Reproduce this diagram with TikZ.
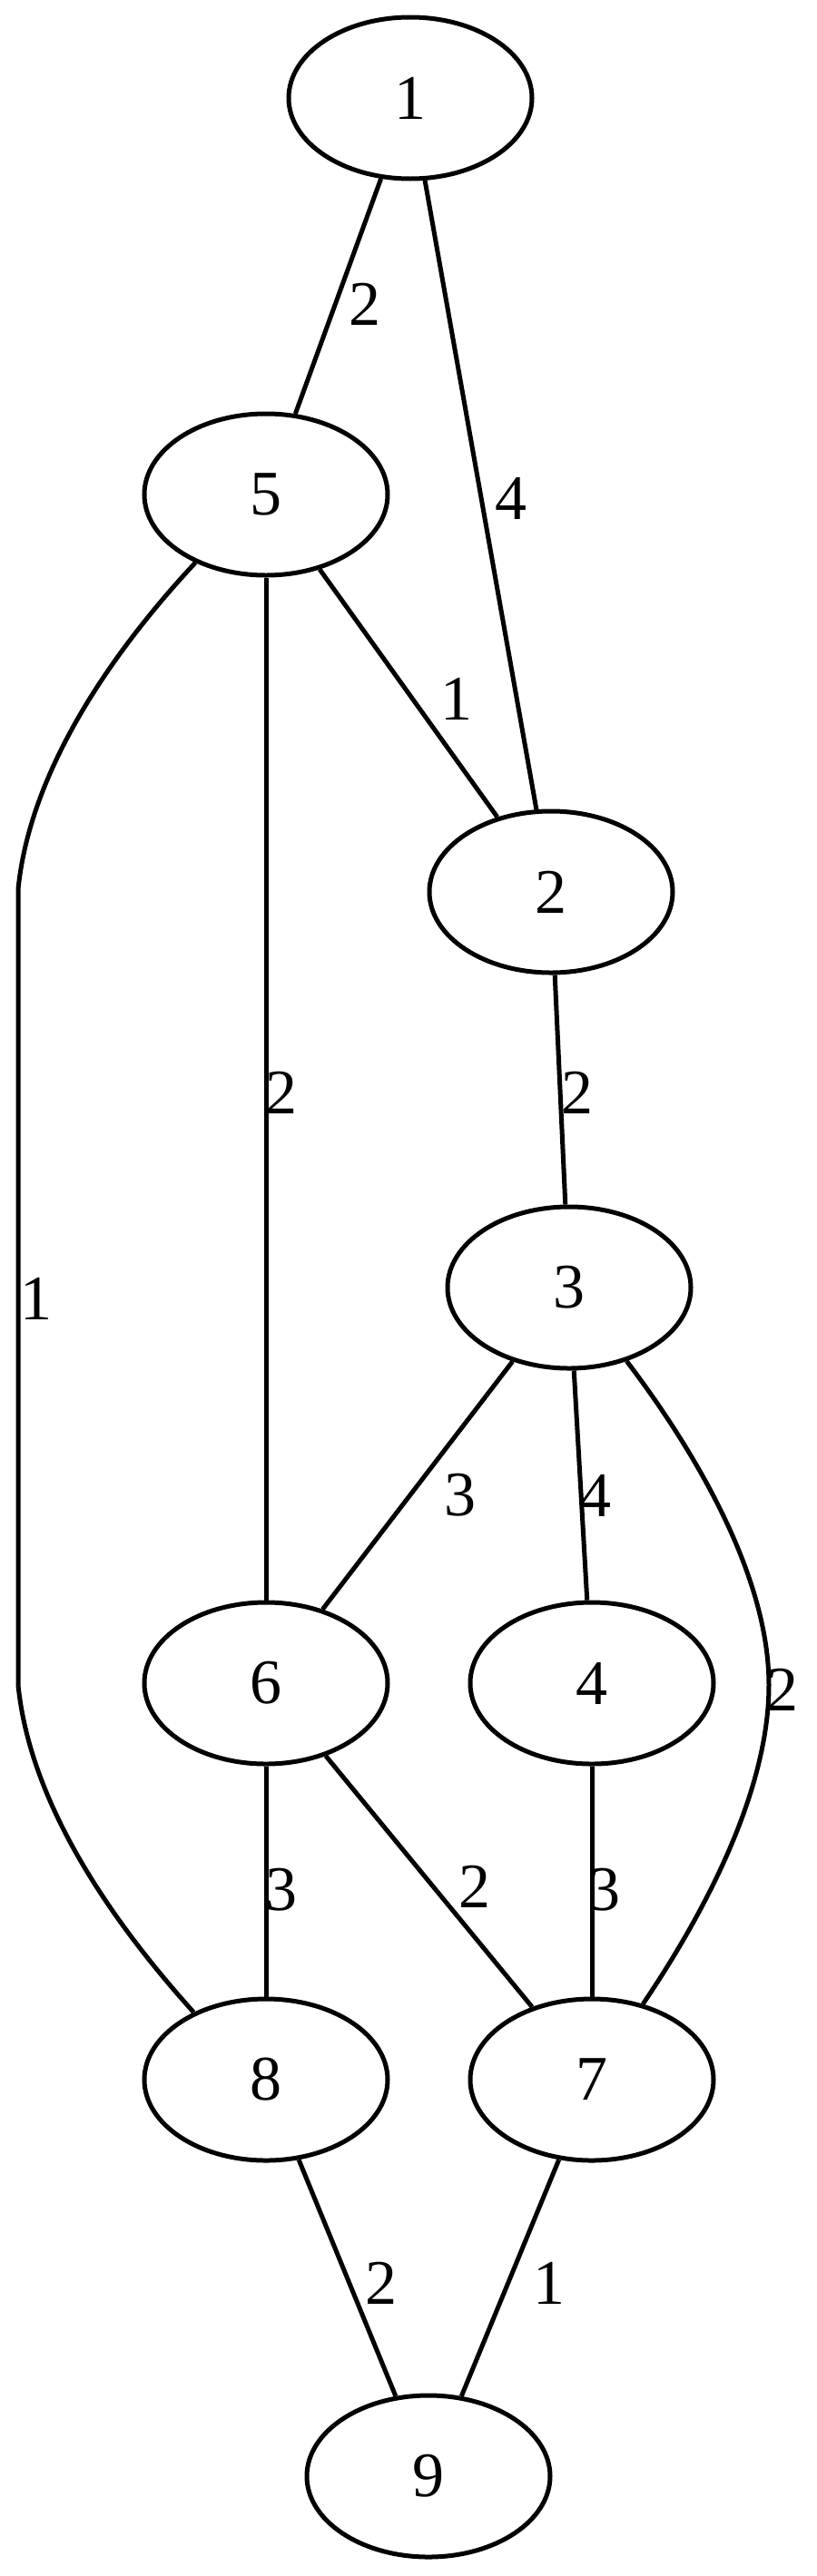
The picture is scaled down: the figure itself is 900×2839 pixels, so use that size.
\documentclass[tikz,border=0pt]{standalone}
\usepackage{fontspec}
\setmainfont{Liberation Serif}
\usetikzlibrary{shapes.geometric}
\begin{document}
\begin{tikzpicture}[x=0.2pt,y=-0.2pt,
  vertex/.style={draw, ellipse, line width=1pt, minimum width=53.6pt, minimum height=35.6pt, inner sep=0pt, font=\fontsize{14}{14}\selectfont},
  elabel/.style={inner sep=0pt, font=\fontsize{14}{14}\selectfont},
  edge/.style={line width=1pt}]
\useasboundingbox[fill=white] (0,0) rectangle (900,2839);
% nodes
\node[vertex] (n1) at (452,108) {\raisebox{-1pt}{1}};
\node[vertex] (n5) at (293,545) {\raisebox{-1pt}{5}};
\node[vertex] (n2) at (607,983) {\raisebox{-1pt}{2}};
\node[vertex] (n3) at (627,1419) {\raisebox{-1pt}{3}};
\node[vertex] (n6) at (293,1855) {\raisebox{-1pt}{6}};
\node[vertex] (n4) at (652,1855) {\raisebox{-1pt}{4}};
\node[vertex] (n8) at (293,2292) {\raisebox{-1pt}{8}};
\node[vertex] (n7) at (652,2292) {\raisebox{-1pt}{7}};
\node[vertex] (n9) at (472,2729) {\raisebox{-1pt}{9}};
% straight edges
\draw[edge] (n1) -- (n5);
\draw[edge] (n1) -- (n2);
\draw[edge] (n5) -- (n2);
\draw[edge] (n5) -- (n6);
\draw[edge] (n2) -- (n3);
\draw[edge] (n3) -- (n6);
\draw[edge] (n3) -- (n4);
\draw[edge] (n6) -- (n8);
\draw[edge] (n6) -- (n7);
\draw[edge] (n4) -- (n7);
\draw[edge] (n8) -- (n9);
\draw[edge] (n7) -- (n9);
% curved edges
\coordinate (c58a) at (20,980);
\coordinate (c58b) at (20,1857);
\draw[edge] (n5.224) .. controls (150,690) and (35,830) .. (c58a) -- (c58b) .. controls (35,2007) and (150,2147) .. (n8.137);
\coordinate (c37) at (847,1857);
\draw[edge] (n3.308) .. controls (770,1605) and (847,1740) .. (c37) .. controls (847,1975) and (775,2110) .. (n7.56);
% edge labels
\node[elabel] (l15) at (402,335) {2};
\node[elabel] (l12) at (563,549) {4};
\node[elabel] (l52) at (503,770) {1};
\node[elabel] (l56) at (310,1204) {2};
\node[elabel] (l58) at (40,1431) {1};
\node[elabel] (l23) at (636,1204) {2};
\node[elabel] (l36) at (507,1648) {3};
\node[elabel] (l34) at (656,1648) {4};
\node[elabel] (l37) at (862,1862) {2};
\node[elabel] (l68) at (310,2083) {3};
\node[elabel] (l67) at (523,2079) {2};
\node[elabel] (l47) at (666,2083) {3};
\node[elabel] (l89) at (420,2516) {2};
\node[elabel] (l79) at (605,2516) {1};
\end{tikzpicture}
\end{document}
